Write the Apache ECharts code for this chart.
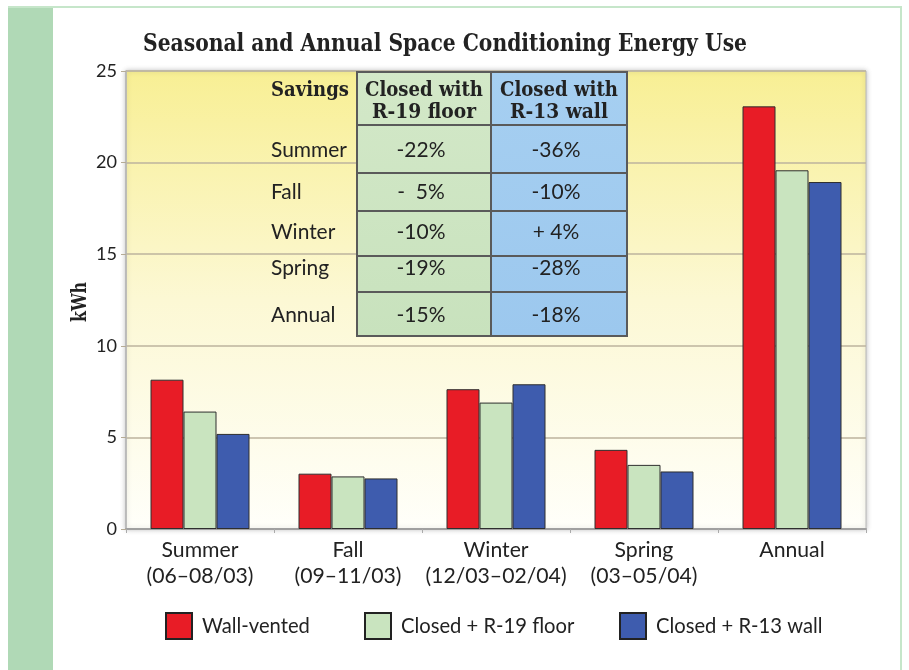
<!DOCTYPE html>
<html>
<head>
<meta charset="utf-8">
<script src="https://cdn.jsdelivr.net/npm/echarts@6/dist/echarts.min.js"></script>
<style>
html,body{margin:0;padding:0;background:#fff;}
#chart{width:909px;height:670px;}
</style>
</head>
<body>
<div id="chart"></div>
<script>
// ---------- data ----------
const titleText = 'Seasonal and Annual Space Conditioning Energy Use';
const yAxisName = 'kWh';
const seasonNames = ['Summer', 'Fall', 'Winter', 'Spring', 'Annual'];
const seasonPeriods = ['(06–08/03)', '(09–11/03)', '(12/03–02/04)', '(03–05/04)', ''];
const seriesNames = ['Wall-vented', 'Closed + R-19 floor', 'Closed + R-13 wall'];
const wallVented  = [8.15, 3.02, 7.63, 4.32, 23.07];
const closedFloor = [6.41, 2.87, 6.90, 3.50, 19.58];
const closedWall  = [5.19, 2.76, 7.90, 3.14, 18.94];
const yMin = 0, yMax = 25, yStep = 5;

const tableCorner = 'Savings';
const tableHeaders = ['Closed with\nR-19 floor', 'Closed with\nR-13 wall'];
const tableRows = ['Summer', 'Fall', 'Winter', 'Spring', 'Annual'];
const floorSavings = ['-22%', '-  5%', '-10%', '-19%', '-15%'];
const wallSavings  = ['-36%', '-10%', '+ 4%', '-28%', '-18%'];

// ---------- styling / layout ----------
const SERIF = "'DejaVu Serif', serif";
const SANS = "Lato, 'Liberation Sans', sans-serif";
const colors = ['#e81c26', '#c9e4bf', '#3e5cae'];
const ink = '#222222';

const mctx = document.createElement('canvas').getContext('2d');
function measure(text, weight, size, family) {
  mctx.font = weight + ' ' + size + 'px ' + family;
  return mctx.measureText(text).width;
}
function fitSize(text, weight, family, target) {
  return 100 * target / measure(text, weight, 100, family);
}
const legendSize = fitSize('Wall-vented', 'normal', SANS, 108);
const xLabSize = fitSize('(06–08/03)', 'normal', SANS, 107);
const tickSize = fitSize('25', 'normal', SANS, 21);
const cellSize = fitSize('Summer', 'normal', SANS, 76);

// condensed bold serif text: fixed font size, horizontally squeezed to a target width
function serifText(text, x, y, size, targetW, align, rotation) {
  const w = measure(text, 'bold', size, SERIF);
  const s = targetW / w;
  return { type: 'text', z: 110, x: x, y: y, scaleX: s, rotation: rotation || 0,
    style: { text: text, x: 0, y: 0, fill: ink, font: 'bold ' + size + 'px ' + SERIF,
      align: align, textAlign: align, verticalAlign: 'middle', textVerticalAlign: 'middle' } };
}
function txt(text, x, y, size, align) {
  return { type: 'text', z: 110, style: {
    text: text, x: x, y: y, fill: ink,
    font: 'normal ' + size.toFixed(2) + 'px ' + SANS,
    align: align, textAlign: align, verticalAlign: 'middle', textVerticalAlign: 'middle' } };
}

const TBL = { left: 357, mid: 491, right: 627, lines: [72, 125, 173, 211, 256, 292, 336],
            labelX: 271, savRight: 349, headY1: 91, headY2: 113,
            rowY: [150, 192, 232, 268, 315] };

const graphics = [];
// page frame
graphics.push({ type: 'rect', z: 1, shape: { x: 8, y: 7, width: 45, height: 663 }, style: { fill: '#b0d9b6' } });
graphics.push({ type: 'line', z: 1, shape: { x1: 8, y1: 7, x2: 902, y2: 7 }, style: { stroke: '#c6e6ca', lineWidth: 2 } });
graphics.push({ type: 'line', z: 1, shape: { x1: 901, y1: 7, x2: 901, y2: 670 }, style: { stroke: '#c6e6ca', lineWidth: 2 } });
// title and axis name
graphics.push(serifText(titleText, 143, 45, 24, 604, 'left'));
graphics.push(serifText(yAxisName, 81, 302, 21, 40, 'center', Math.PI / 2));
// table columns
const tTop = TBL.lines[0], tBottom = TBL.lines[TBL.lines.length - 1];
graphics.push({ type: 'rect', z: 100, shape: { x: TBL.left, y: tTop, width: TBL.mid - TBL.left, height: tBottom - tTop },
  style: { fill: new echarts.graphic.LinearGradient(0, 0, 0, 1, [{ offset: 0, color: '#d3e8c8' }, { offset: 1, color: '#c8e2bd' }]), stroke: '#5a5a5a', lineWidth: 2 } });
graphics.push({ type: 'rect', z: 100, shape: { x: TBL.mid, y: tTop, width: TBL.right - TBL.mid, height: tBottom - tTop },
  style: { fill: new echarts.graphic.LinearGradient(0, 0, 0, 1, [{ offset: 0, color: '#a6cff1' }, { offset: 1, color: '#9cc8ee' }]), stroke: '#5a5a5a', lineWidth: 2 } });
for (let i = 1; i < TBL.lines.length - 1; i++) {
  graphics.push({ type: 'line', z: 101, shape: { x1: TBL.left, y1: TBL.lines[i], x2: TBL.right, y2: TBL.lines[i] }, style: { stroke: '#5a5a5a', lineWidth: 2 } });
}
const c1 = (TBL.left + TBL.mid) / 2, c2 = (TBL.mid + TBL.right) / 2;
graphics.push(serifText(tableCorner, TBL.savRight, TBL.headY1, 21, 78, 'right'));
const headW = [[118, 104], [118, 98]];
[c1, c2].forEach(function (cx, k) {
  const parts = tableHeaders[k].split('\n');
  graphics.push(serifText(parts[0], cx, TBL.headY1, 21, headW[k][0], 'center'));
  graphics.push(serifText(parts[1], cx, TBL.headY2, 21, headW[k][1], 'center'));
});
tableRows.forEach(function (r, i) {
  graphics.push(txt(r, TBL.labelX, TBL.rowY[i], cellSize, 'left'));
  graphics.push(txt(floorSavings[i], c1 - 3, TBL.rowY[i], cellSize, 'center'));
  graphics.push(txt(wallSavings[i], c2 - 3, TBL.rowY[i], cellSize, 'center'));
});

const categories = seasonNames.map(function (n, i) { return seasonPeriods[i] ? n + '\n' + seasonPeriods[i] : n; });
const seriesData = [wallVented, closedFloor, closedWall];

const legendLefts = [160, 359, 614];
const legends = seriesNames.map(function (n, i) {
  return { data: [n], left: legendLefts[i], top: 607, itemWidth: 26, itemHeight: 26, icon: 'rect',
    itemStyle: { borderColor: '#222', borderWidth: 2 },
    textStyle: { fontFamily: SANS, fontSize: legendSize, color: ink, padding: [0, 0, 0, 5] }, selectedMode: false };
});

const option = {
  animation: false,
  backgroundColor: '#ffffff',
  legend: legends,
  grid: { left: 126, right: 43, top: 71, bottom: 141, show: true,
    backgroundColor: new echarts.graphic.LinearGradient(0, 0, 0, 1, [
      { offset: 0, color: '#f8ef94' }, { offset: 0.5, color: '#fcf8d4' }, { offset: 1, color: '#fffffa' }]),
    borderColor: '#b8b8b8', borderWidth: 1, shadowBlur: 5, shadowColor: 'rgba(0,0,0,0.25)' },
  xAxis: { type: 'category', data: categories,
    axisLine: { lineStyle: { color: '#a0a0a0', width: 2 } },
    axisTick: { show: true, length: 4, lineStyle: { color: '#aaaaaa' } },
    axisLabel: { fontFamily: SANS, fontSize: xLabSize, color: ink, lineHeight: 26, margin: 8, interval: 0 } },
  yAxis: { type: 'value', min: yMin, max: yMax, interval: yStep,
    axisLine: { show: true, lineStyle: { color: '#b5b5b5', width: 1.5 } },
    axisTick: { show: true, length: 5, lineStyle: { color: '#b5ab95' } },
    axisLabel: { fontFamily: SANS, fontSize: tickSize, color: ink, margin: 9 },
    splitLine: { lineStyle: { color: '#bcb39e', width: 1.5 } } },
  series: seriesNames.map(function (n, i) {
    return { name: n, type: 'bar', data: seriesData[i], barWidth: 33, barGap: '0%',
      itemStyle: { color: colors[i], borderColor: '#2e2e2e', borderWidth: 1 } };
  }),
  graphic: { elements: graphics }
};

const chart = echarts.init(document.getElementById('chart'), null, { renderer: 'canvas' });
chart.setOption(option);
</script>
</body>
</html>
